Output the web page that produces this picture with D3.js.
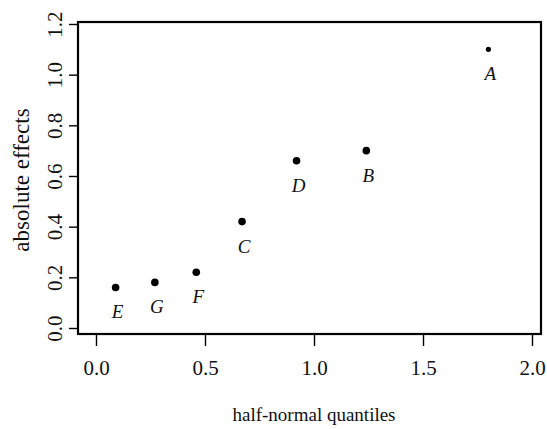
<!DOCTYPE html>
<html>
<head>
  <meta charset="utf-8">
  <title>Half-normal plot of absolute effects</title>
  <script src="https://d3js.org/d3.v7.min.js"></script>
  <style>
    body { margin: 0; background: #fff; }
    text { font-family: "Liberation Serif", "DejaVu Serif", serif; fill: #111; }
  </style>
</head>
<body>
<svg class="chart"></svg>
<script>
// Effect labels, half-normal quantiles and absolute effects
const effects = ["E", "G", "F", "C", "D", "B", "A"];
const quantiles = [0.09, 0.27, 0.46, 0.67, 0.92, 1.24, 1.80];
const absEffects = [0.16, 0.18, 0.22, 0.42, 0.66, 0.70, 1.10];
const xTicks = [0, 0.5, 1.0, 1.5, 2.0];
const yTicks = [0, 0.2, 0.4, 0.6, 0.8, 1.0, 1.2];

const W = 547, H = 429;
const svg = d3.select(".chart").attr("width", W).attr("height", H);

// Scales (box runs a bit past the domain on each side)
const x = d3.scaleLinear().domain([0, 2]).range([96, 532]);
const y = d3.scaleLinear().domain([0, 1.2]).range([328, 24]);

// Plot frame
svg.append("rect")
  .attr("x", 78).attr("y", 22)
  .attr("width", 463).attr("height", 312)
  .attr("fill", "none")
  .attr("stroke", "#000")
  .attr("stroke-width", 2.2);

// X axis
const xAxis = svg.append("g")
  .attr("transform", "translate(0,335)")
  .call(d3.axisBottom(x).tickValues(xTicks).tickFormat(d3.format(".1f")).tickSize(11).tickPadding(14));
xAxis.select(".domain").remove();
xAxis.selectAll("line").attr("stroke", "#000").attr("stroke-width", 1.4);
xAxis.selectAll("text").style("font-size", "21px").style("font-family", "Liberation Serif");

// Y axis, labels turned as in base R plots
const yAxis = svg.append("g")
  .attr("transform", "translate(77,0)")
  .call(d3.axisLeft(y).tickValues(yTicks).tickFormat(d3.format(".1f")).tickSize(8).tickPadding(0));
yAxis.select(".domain").remove();
yAxis.selectAll("line").attr("stroke", "#000").attr("stroke-width", 1.4);
yAxis.selectAll("text")
  .attr("x", 0).attr("y", 0).attr("dy", null)
  .attr("text-anchor", "middle")
  .attr("transform", "translate(-15,0) rotate(-90)")
  .style("font-size", "21px")
  .style("font-family", "Liberation Serif");

// Axis titles
svg.append("text")
  .attr("x", 314).attr("y", 421)
  .attr("text-anchor", "middle")
  .style("font-size", "19px")
  .text("half-normal quantiles");

svg.append("text")
  .attr("transform", "translate(29,180) rotate(-90)")
  .attr("text-anchor", "middle")
  .style("font-size", "23px")
  .text("absolute effects");

// Points with their letters
const pts = effects.map((e, i) => ({ name: e, q: quantiles[i], v: absEffects[i] }));

svg.selectAll(".dot")
  .data(pts)
  .join("circle")
    .attr("class", "dot")
    .attr("cx", d => x(d.q))
    .attr("cy", d => y(d.v))
    .attr("r", d => d.name === "A" ? 2.6 : 3.8)
    .attr("fill", "#000");

svg.selectAll(".lab")
  .data(pts)
  .join("text")
    .attr("class", "lab")
    .attr("x", d => x(d.q) + 2)
    .attr("y", d => y(d.v) + 31)
    .attr("text-anchor", "middle")
    .style("font-size", "19px")
    .style("font-style", "italic")
    .text(d => d.name);
</script>
</body>
</html>
